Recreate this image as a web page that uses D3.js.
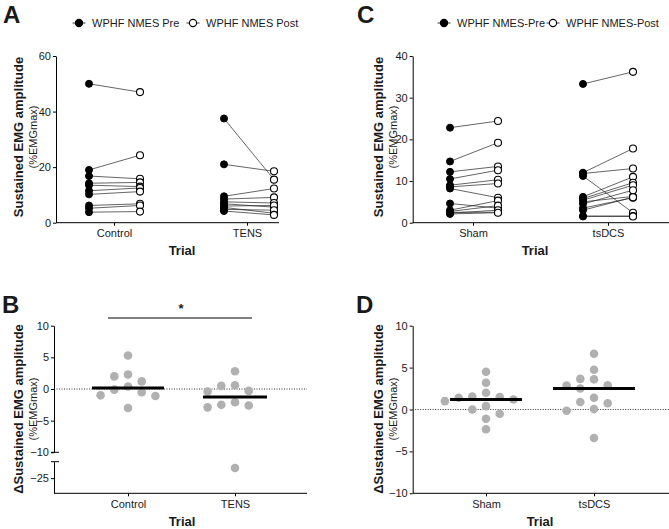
<!DOCTYPE html>
<html><head><meta charset="utf-8">
<script src="https://cdn.jsdelivr.net/npm/d3@7"></script>
<style>
body{margin:0;background:#fff}
svg{display:block}
text{font-family:"Liberation Sans",Arial,Helvetica,sans-serif;fill:#1a1a1a}
</style>
</head><body>
<svg id="chart" width="669" height="529"></svg>
<script>
// ---------- DATA ----------
const catsA = ["Control", "TENS"];
const preControl  = [50, 19, 16.8, 14.2, 13.5, 11.5, 10.2, 6.2, 5.2, 3.8];
const postControl = [47, 24.3, 15.8, 14.5, 13, 12.5, 11.2, 6.8, 6.2, 4];
const preTENS  = [37.5, 21.0, 9.5, 8.5, 7.5, 6.8, 6.0, 5.5, 4.8, 4.2];
const postTENS = [15.5, 18.5, 12.3, 9.1, 7.1, 5.6, 6.2, 3.4, 4.5, 2.8];

const catsC = ["Sham", "tsDCS"];
const preSham  = [22.8, 14.7, 12.2, 10.5, 9.0, 8.6, 8.2, 4.6, 3.0, 2.7, 2.5, 2.3, 2.1];
const postSham = [24.4, 19.2, 13.5, 12.6, 10.3, 9.4, 6.0, 3.5, 5.3, 4.1, 2.5, 3.0, 2.4];
const preTsDCS  = [33.3, 12.0, 11.8, 11.2, 6.2, 5.8, 5.4, 5.0, 4.5, 3.5, 3.0, 1.6, 1.5];
const postTsDCS = [36.2, 17.8, 13.0, 2.4, 11.0, 9.6, 9.0, 6.3, 7.8, 6.0, 6.1, 1.6, 1.5];

const deltaControl = [5.3, 2.3, 2.0, 1.2, 0.4, -0.1, -0.5, -1.0, -1.1, -3.0];
const deltaTENS    = [2.8, 0.6, 0.5, -0.3, -0.4, -2.1, -2.5, -2.6, -2.9, -23.4];
const deltaSham    = [4.5, 3.2, 2.0, 1.55, 1.5, 1.4, 1.2, 1.0, 0.4, 0.0, -0.5, -1.1, -2.35];
const deltaTsDCS   = [6.65, 4.75, 3.65, 3.6, 2.9, 2.85, 2.5, 1.4, 0.9, 0.75, 0.05, -0.15, -3.4];

const ticksA = [0, 20, 40, 60];
const ticksC = [0, 10, 20, 30, 40];
const ticksB = [-10, -5, 0, 5, 10];
const ticksBLow = [-25];
const ticksD = [-10, -5, 0, 5, 10];

const legendA = ["WPHF NMES Pre", "WPHF NMES Post"];
const legendC = ["WPHF NMES-Pre", "WPHF NMES-Post"];
const yTitleTop = "Sustained EMG amplitude";
const yTitleBottom = "\u0394Sustained EMG amplitude";
const yUnit = "(%EMGmax)";
const xTitle = "Trial";

// ---------- HELPERS ----------
const svg = d3.select("#chart");
const FONT = "Liberation Sans, Arial, sans-serif";

function styleAxis(g) {
  g.attr("font-family", FONT).attr("font-size", 11);
  g.selectAll("text").attr("fill", "#1a1a1a").style("fill", "#1a1a1a");
  g.selectAll("line").attr("stroke", "#000");
  g.selectAll("path").attr("stroke", "#000");
}
function yAxis(scale, ticks, x) {
  const g = svg.append("g").attr("transform", `translate(${x},0)`)
    .call(d3.axisLeft(scale).tickValues(ticks).tickSize(3).tickSizeOuter(0).tickPadding(2).tickFormat(d3.format("d")));
  styleAxis(g);
  return g;
}
function xAxis(scale, y, x0, x1) {
  svg.append("line").attr("x1", x0).attr("x2", x1).attr("y1", y).attr("y2", y).attr("stroke", "#000");
  const g = svg.append("g").attr("transform", `translate(0,${y})`)
    .call(d3.axisBottom(scale).tickSize(3).tickSizeOuter(0).tickPadding(4));
  g.select(".domain").remove();
  styleAxis(g);
}
function yTitles(cx, cy, title) {
  svg.append("text").attr("transform", `translate(${cx},${cy}) rotate(-90)`)
    .attr("text-anchor", "middle").attr("font-weight", "bold").attr("font-size", 13).text(title);
  svg.append("text").attr("transform", `translate(${cx + 14},${cy}) rotate(-90)`)
    .attr("text-anchor", "middle").attr("font-size", 11).text(yUnit);
}
function label(txt, x, y, size, anchor) {
  svg.append("text").attr("x", x).attr("y", y).attr("font-size", size)
    .attr("font-weight", "bold").attr("text-anchor", anchor || "start").text(txt);
}
function legend(names, xs, y) {
  names.forEach((n, i) => {
    const cx = xs[i];
    svg.append("line").attr("x1", cx - 6.5).attr("x2", cx + 6.5).attr("y1", y).attr("y2", y)
      .attr("stroke", "#000").attr("stroke-width", 0.8);
    svg.append("circle").attr("cx", cx).attr("cy", y).attr("r", 3.6)
      .attr("fill", i === 0 ? "#000" : "#fff").attr("stroke", "#000").attr("stroke-width", 1.1);
    svg.append("text").attr("x", cx + 13).attr("y", y + 4).attr("font-size", 11).text(n);
  });
}
function pairs(x, y, cat, pre, post, dx0, dx1) {
  const g = svg.append("g");
  const cx = x(cat);
  pre.forEach((v, i) => {
    g.append("line").attr("x1", cx + dx0).attr("y1", y(v)).attr("x2", cx + dx1).attr("y2", y(post[i]))
      .attr("stroke", "#222").attr("stroke-width", 0.7);
  });
  pre.forEach(v => g.append("circle").attr("cx", cx + dx0).attr("cy", y(v)).attr("r", 3.5)
      .attr("fill", "#000").attr("stroke", "#000").attr("stroke-width", 1));
  post.forEach(v => g.append("circle").attr("cx", cx + dx1).attr("cy", y(v)).attr("r", 3.5)
      .attr("fill", "#fff").attr("stroke", "#000").attr("stroke-width", 1.1));
}
// simple beeswarm: place in descending order at nearest free slot
function swarm(values, ypix, cx, step, thr) {
  const placed = [];
  const order = values.map((v, i) => i).sort((a, b) => values[b] - values[a]);
  order.forEach(i => {
    const py = ypix(values[i]);
    for (let k = 0; k < 40; k++) {
      const off = (k === 0 ? 0 : (k % 2 ? -1 : 1) * Math.ceil(k / 2)) * step / 2;
      const px = cx + off;
      const hit = placed.some(p => Math.abs(p.x - px) < step * 0.9 && Math.abs(p.y - py) < thr);
      if (!hit) { placed.push({ x: px, y: py }); break; }
    }
  });
  return placed;
}
function dots(values, ypix, cx) {
  swarm(values, ypix, cx, 13.7, 9.5).forEach(p =>
    svg.append("circle").attr("cx", p.x).attr("cy", p.y).attr("r", 4.3).attr("fill", "#b0b0b0"));
}
function median(values, ypix, cx, half) {
  const m = d3.median(values);
  svg.append("line").attr("x1", cx - half).attr("x2", cx + half).attr("y1", ypix(m)).attr("y2", ypix(m))
    .attr("stroke", "#000").attr("stroke-width", 3);
}

// ---------- PANEL A ----------
{
  const x = d3.scalePoint().domain(catsA).range([114, 247]);
  const y = d3.scaleLinear().domain([0, 60]).range([222.7, 56]);
  yAxis(y, ticksA, 56);
  xAxis(x, 222.7, 56, 279);
  pairs(x, y, "Control", preControl, postControl, -25, 26);
  pairs(x, y, "TENS", preTENS, postTENS, -23, 27);
  yTitles(23, 137, yTitleTop);
  label(xTitle, 182, 255, 13, "middle");
  label("A", 3, 23, 24);
  legend(legendA, [79, 193], 23);
}
// ---------- PANEL C ----------
{
  const x = d3.scalePoint().domain(catsC).range([473, 608]);
  const y = d3.scaleLinear().domain([0, 40]).range([222.7, 56]);
  yAxis(y, ticksC, 412.7);
  xAxis(x, 222.7, 412.7, 669);
  pairs(x, y, "Sham", preSham, postSham, -23, 25);
  pairs(x, y, "tsDCS", preTsDCS, postTsDCS, -25, 25);
  yTitles(382.5, 137, yTitleTop);
  label(xTitle, 535, 255, 13, "middle");
  label("C", 357, 23, 24);
  legend(legendC, [444, 553], 23);
}
// ---------- PANEL B ----------
{
  const x = d3.scalePoint().domain(catsA).range([128, 235]);
  const yU = d3.scaleLinear().domain([-10, 10]).range([452.3, 325.7]);
  const yL = d3.scaleLinear().domain([-27.4, -22.4]).range([493.3, 461.7]);
  const yp = v => v >= -10 ? yU(v) : yL(v);
  yAxis(yU, ticksB, 54);
  yAxis(yL, ticksBLow, 54);
  // break caps
  svg.append("line").attr("x1", 51).attr("x2", 59).attr("y1", yU(-10)).attr("y2", yU(-10)).attr("stroke", "#000");
  svg.append("line").attr("x1", 51).attr("x2", 59).attr("y1", 461.7).attr("y2", 461.7).attr("stroke", "#000");
  svg.append("line").attr("x1", 54).attr("x2", 307).attr("y1", yU(0)).attr("y2", yU(0))
    .attr("stroke", "#333").attr("stroke-width", 1).attr("stroke-dasharray", "1,1.5");
  xAxis(x, 493.3, 54, 307);
  dots(deltaControl, yp, x("Control"));
  dots(deltaTENS, yp, x("TENS"));
  median(deltaControl, yp, x("Control"), 36);
  median(deltaTENS, yp, x("TENS"), 32);
  // significance
  svg.append("line").attr("x1", 108).attr("x2", 252).attr("y1", 318).attr("y2", 318).attr("stroke", "#000");
  label("*", 181, 313, 13, "middle");
  yTitles(22.5, 409, yTitleBottom);
  label(xTitle, 182, 526, 13, "middle");
  label("B", 2, 313, 24);
}
// ---------- PANEL D ----------
{
  const x = d3.scalePoint().domain(catsC).range([486, 594]);
  const y = d3.scaleLinear().domain([-10, 10]).range([493.3, 325.7]);
  yAxis(y, ticksD, 412.7);
  svg.append("line").attr("x1", 412.7).attr("x2", 669).attr("y1", y(0)).attr("y2", y(0))
    .attr("stroke", "#333").attr("stroke-width", 1).attr("stroke-dasharray", "1,1.5");
  xAxis(x, 493.3, 412.7, 669);
  dots(deltaSham, y, x("Sham"));
  dots(deltaTsDCS, y, x("tsDCS"));
  median(deltaSham, y, x("Sham"), 36);
  median(deltaTsDCS, y, x("tsDCS"), 41);
  yTitles(382.5, 409, yTitleBottom);
  label(xTitle, 540, 526, 13, "middle");
  label("D", 356, 313, 24);
}
</script>
</body></html>
